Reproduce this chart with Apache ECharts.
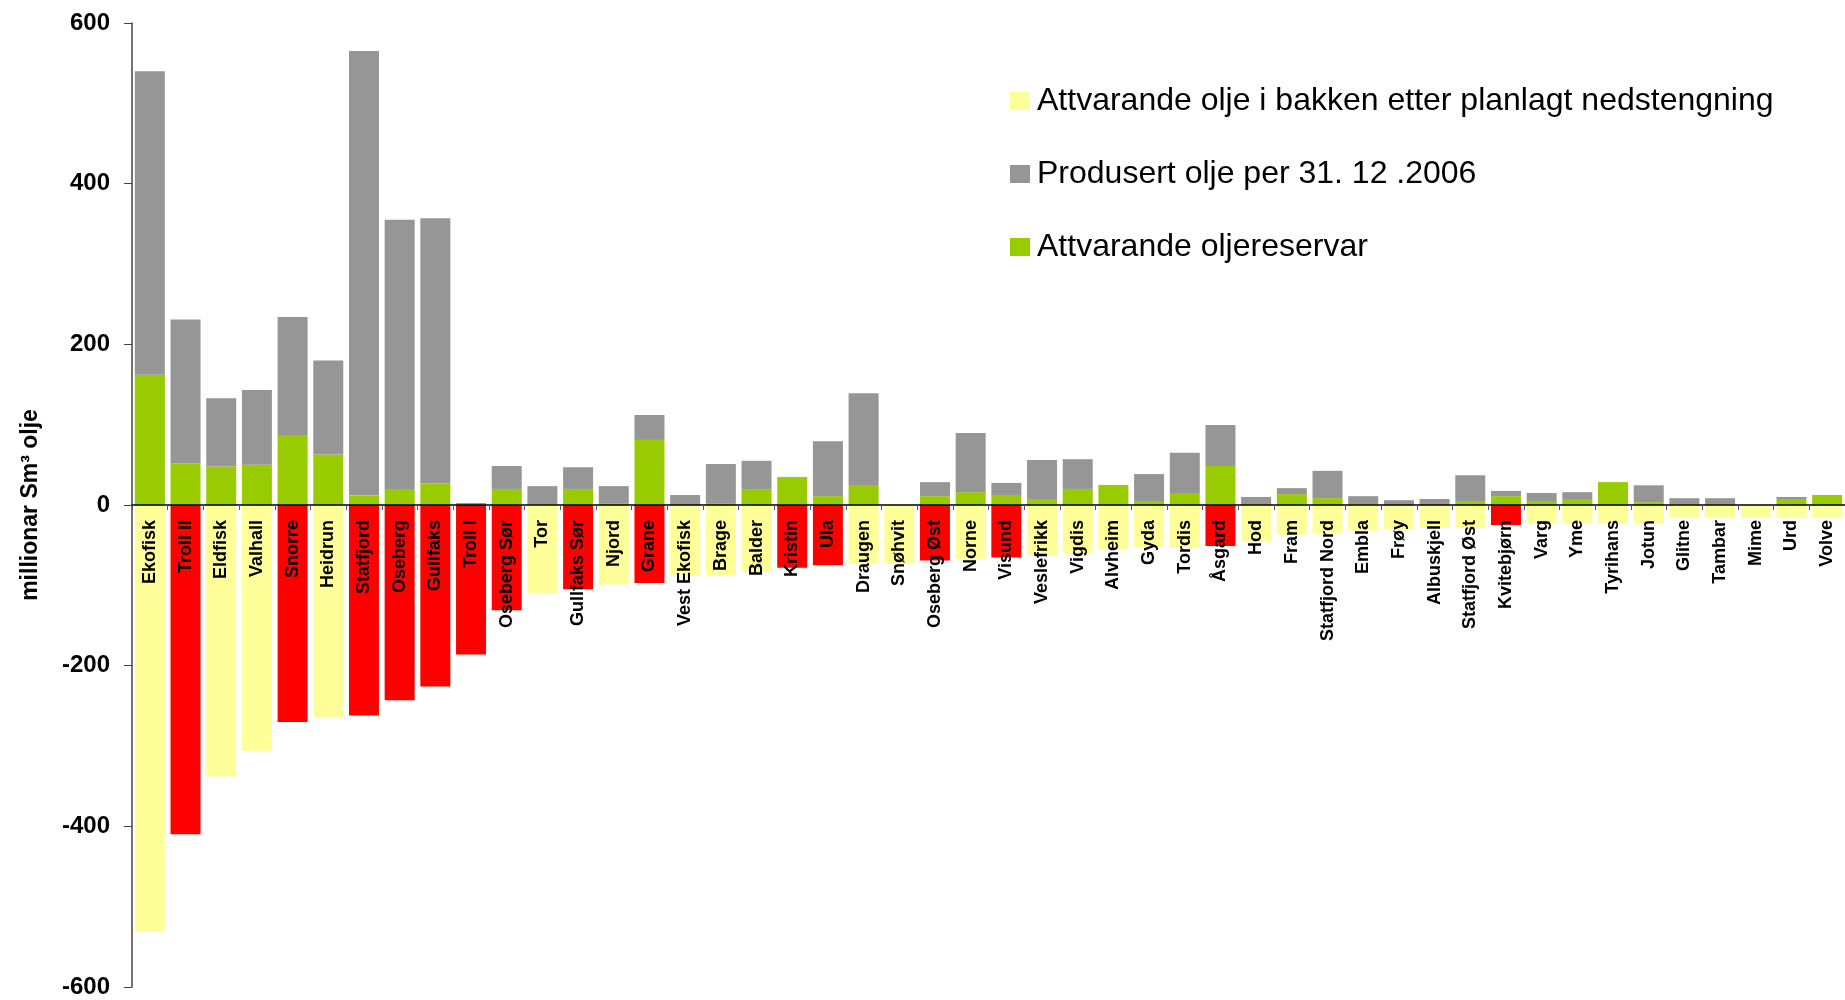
<!DOCTYPE html>
<html>
<head>
<meta charset="utf-8">
<script src="https://cdn.jsdelivr.net/npm/echarts@6/dist/echarts.min.js"></script>
<style>
  html, body { margin: 0; padding: 0; background: #fff; }
  #chart { width: 1845px; height: 1000px; }
</style>
</head>
<body>
<div id="chart"></div>
<script>
// oil fields, sorted by remaining oil in place
const fields = ['Ekofisk', 'Troll II', 'Eldfisk', 'Valhall', 'Snorre', 'Heidrun', 'Statfjord', 'Oseberg',
  'Gullfaks', 'Troll I', 'Oseberg Sør', 'Tor', 'Gullfaks Sør', 'Njord', 'Grane', 'Vest Ekofisk', 'Brage',
  'Balder', 'Kristin', 'Ula', 'Draugen', 'Snøhvit', 'Oseberg Øst', 'Norne', 'Visund', 'Veslefrikk',
  'Vigdis', 'Alvheim', 'Gyda', 'Tordis', 'Åsgard', 'Hod', 'Fram', 'Statfjord Nord', 'Embla', 'Frøy',
  'Albuskjell', 'Statfjord Øst', 'Kvitebjørn', 'Varg', 'Yme', 'Tyrihans', 'Jotun', 'Glitne', 'Tambar',
  'Mime', 'Urd', 'Volve']

// Attvarande oljereservar (green)
const reserves = [162, 52, 48, 50, 87, 63, 12, 20, 27, 0, 20, 1, 20, 2.5, 81, 0, 2.5, 19, 34, 11, 25, 0,
  11, 16, 12.5, 7.5, 20, 25, 5, 15, 48.5, 1, 13.5, 8.5, 1, 0, 0, 5, 11, 5, 7.5, 28.5, 3.5, 1, 1, 0, 7.5, 12.5]

// Produsert olje per 31.12.2006 (grey)
const produced = [378, 179, 85, 93, 147, 117, 553, 335, 330, 2.5, 28.5, 22.5, 27, 21, 31, 12.4, 48.5,
  36, 1, 68.5, 114, 0, 17.5, 73.5, 15, 48.5, 37, 0, 33.5, 50, 51, 9, 7.5, 34, 10, 6, 7.5, 32, 6.5, 10,
  8.5, 0, 21, 7.5, 7.5, 0, 2.5, 0]

// Attvarande olje i bakken etter planlagt nedstengning (below zero)
const remaining = [-531, -410, -338, -306, -270, -264, -262, -243, -226, -186, -131, -110, -105, -99,
  -97, -87, -87, -83, -78, -75, -73, -73, -69, -67, -65.5, -63, -60, -55.5, -53, -53, -51, -45, -37, -35,
  -32, -30, -28.5, -28.5, -25, -23, -22.5, -22.5, -22.5, -16, -16, -16, -16, -16]

// fields whose remaining oil is drawn red
const redFields = ['Troll II', 'Snorre', 'Statfjord', 'Oseberg', 'Gullfaks', 'Troll I', 'Oseberg Sør',
  'Gullfaks Sør', 'Grane', 'Kristin', 'Ula', 'Oseberg Øst', 'Visund', 'Åsgard', 'Kvitebjørn']

const yTicks = { min: -600, max: 600, interval: 200 }

const colors = {
  remaining: '#FFFF99',
  red: '#FF0000',
  produced: '#969696',
  reserves: '#99CC00'
}

const legendNames = [
  'Attvarande olje i bakken etter planlagt nedstengning',
  'Produsert olje per 31. 12 .2006',
  'Attvarande oljereservar'
]

const font = "'Liberation Sans', Arial, sans-serif"

const gridBox = { left: 132, right: 0, top: 23, bottom: 13 }
// the category axis sits on the zero line, which is the middle of the symmetric y range
const zeroOffset = -(1000 - gridBox.top - gridBox.bottom) * (0 - yTicks.min) / (yTicks.max - yTicks.min)

const chart = echarts.init(document.getElementById('chart'))

const option = {
  backgroundColor: '#fff',
  animation: false,
  textStyle: { fontFamily: font },
  grid: { ...gridBox, outerBoundsMode: 'none', containLabel: false },
  legend: {
    orient: 'vertical',
    left: 1005,
    top: 80,
    itemWidth: 20,
    itemHeight: 18,
    itemGap: 41,
    icon: 'rect',
    data: legendNames,
    textStyle: { fontSize: 32, lineHeight: 28, color: '#000', fontFamily: font, padding: [0, 0, 0, 2] }
  },
  xAxis: {
    type: 'category',
    data: fields,
    z: 5,
    position: 'bottom',
    offset: zeroOffset,
    axisLine: { onZero: false, lineStyle: { color: '#000', width: 1.5 } },
    axisTick: { show: true, length: 5, lineStyle: { color: '#555' } },
    axisLabel: {
      interval: 0,
      rotate: 90,
      margin: 15,
      color: '#000',
      fontSize: 18,
      fontWeight: 'bold',
      fontFamily: font
    }
  },
  yAxis: {
    type: 'value',
    min: yTicks.min,
    max: yTicks.max,
    interval: yTicks.interval,
    name: 'millionar Sm³ olje',
    nameLocation: 'middle',
    nameRotate: 90,
    nameGap: 90,
    nameTextStyle: { fontSize: 23, fontWeight: 'bold', color: '#000', fontFamily: font },
    splitLine: { show: false },
    axisLine: { show: true, lineStyle: { color: '#444', width: 1.5 } },
    axisTick: { show: true, length: 8, lineStyle: { color: '#444' } },
    axisLabel: { margin: 22, color: '#000', fontSize: 24, fontWeight: 'bold', fontFamily: font }
  },
  series: [
    {
      name: legendNames[0],
      type: 'bar',
      stack: 'oil',
      barWidth: 30,
      itemStyle: { color: colors.remaining },
      data: remaining.map((v, i) => ({
        value: v,
        itemStyle: { color: redFields.includes(fields[i]) ? colors.red : colors.remaining }
      }))
    },
    {
      name: legendNames[2],
      type: 'bar',
      stack: 'oil',
      barWidth: 30,
      itemStyle: { color: colors.reserves },
      data: reserves
    },
    {
      name: legendNames[1],
      type: 'bar',
      stack: 'oil',
      barWidth: 30,
      itemStyle: { color: colors.produced },
      data: produced
    }
  ]
}

chart.setOption(option)
</script>
</body>
</html>
